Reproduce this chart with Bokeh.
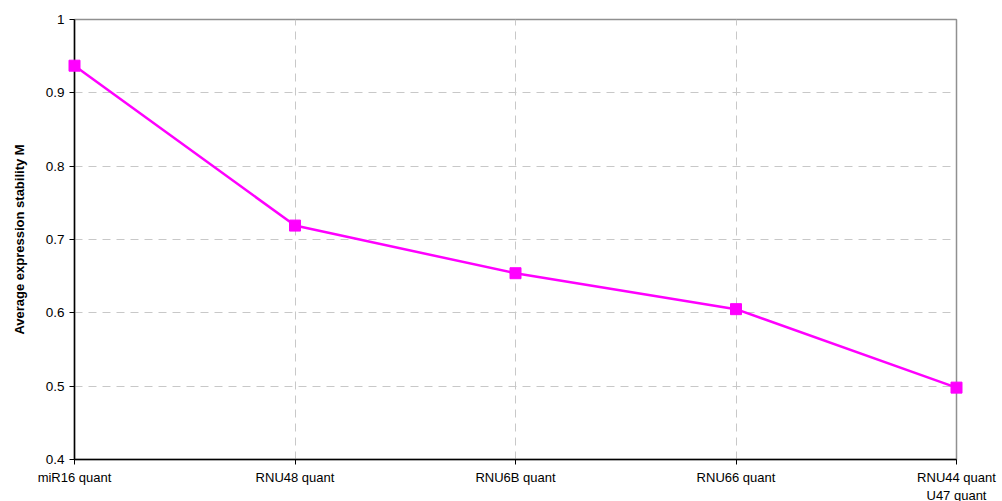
from bokeh.plotting import figure
from bokeh.models import FixedTicker, Range1d
from bokeh.core.properties import value
from bokeh.embed import file_html
from bokeh.resources import INLINE

categories = ["miR16 quant", "RNU48 quant", "RNU6B quant", "RNU66 quant", "RNU44 quant\nU47 quant"]
values = [0.937, 0.719, 0.654, 0.605, 0.498]
y_ticks = [0.4, 0.5, 0.6, 0.7, 0.8, 0.9, 1.0]
y_tick_labels = ["0.4", "0.5", "0.6", "0.7", "0.8", "0.9", "1"]

xs = list(range(len(categories)))
y_min, y_max = y_ticks[0], y_ticks[-1]

p = figure(width=1002, height=501, output_backend="svg", toolbar_location=None,
           x_range=Range1d(0, len(categories) - 1), y_range=Range1d(y_min, y_max),
           min_border_left=74, min_border_right=46, min_border_top=19, min_border_bottom=42)

p.line(xs, values, line_color="#ff00ff", line_width=2.5, level="overlay")
p.scatter(xs, values, marker="square", size=11, fill_color="#ff00ff", line_color="#ff00ff",
          level="overlay")

# category labels below the axis (drawn as text so the two-line label keeps its spacing)
p.text(xs, [y_min] * len(xs), text=categories, text_font=value("Liberation Sans"),
       text_font_size="13px", text_color="black", text_align="center",
       text_baseline="top", text_line_height=1.2, y_offset=10, level="overlay")

p.outline_line_color = "#909090"
p.outline_line_width = 1.5

p.xaxis.ticker = FixedTicker(ticks=xs)
p.xaxis.major_label_overrides = {i: "" for i in xs}
p.xaxis.major_label_text_font_size = "1px"
p.xaxis.major_label_standoff = 0
p.yaxis.ticker = FixedTicker(ticks=y_ticks)
p.yaxis.major_label_overrides = {t: l for t, l in zip(y_ticks, y_tick_labels)}

for ax in (p.xaxis[0], p.yaxis[0]):
    ax.axis_line_color = "black"
    ax.axis_line_width = 1.5
    ax.major_tick_line_color = "black"
    ax.major_tick_out = 5
    ax.major_tick_in = 0
    ax.minor_tick_line_color = None
    ax.major_label_text_font = "Liberation Sans"
    ax.major_label_text_color = "black"

p.yaxis.major_label_text_font_size = "13.5px"
p.yaxis.major_label_standoff = 5
p.yaxis.axis_label = "Average expression stability M"
p.yaxis.axis_label_text_font = "Liberation Sans"
p.yaxis.axis_label_text_font_style = "bold"
p.yaxis.axis_label_text_font_size = "13px"
p.yaxis.axis_label_text_color = "black"
p.yaxis.axis_label_standoff = 16

p.xgrid.grid_line_color = "#c8c8c8"
p.xgrid.grid_line_dash = "8 6"
p.ygrid.grid_line_color = "#c8c8c8"
p.ygrid.grid_line_dash = "8 6"

p.background_fill_color = "white"
p.border_fill_color = "white"

open("out.html", "w").write(file_html(p, INLINE))
